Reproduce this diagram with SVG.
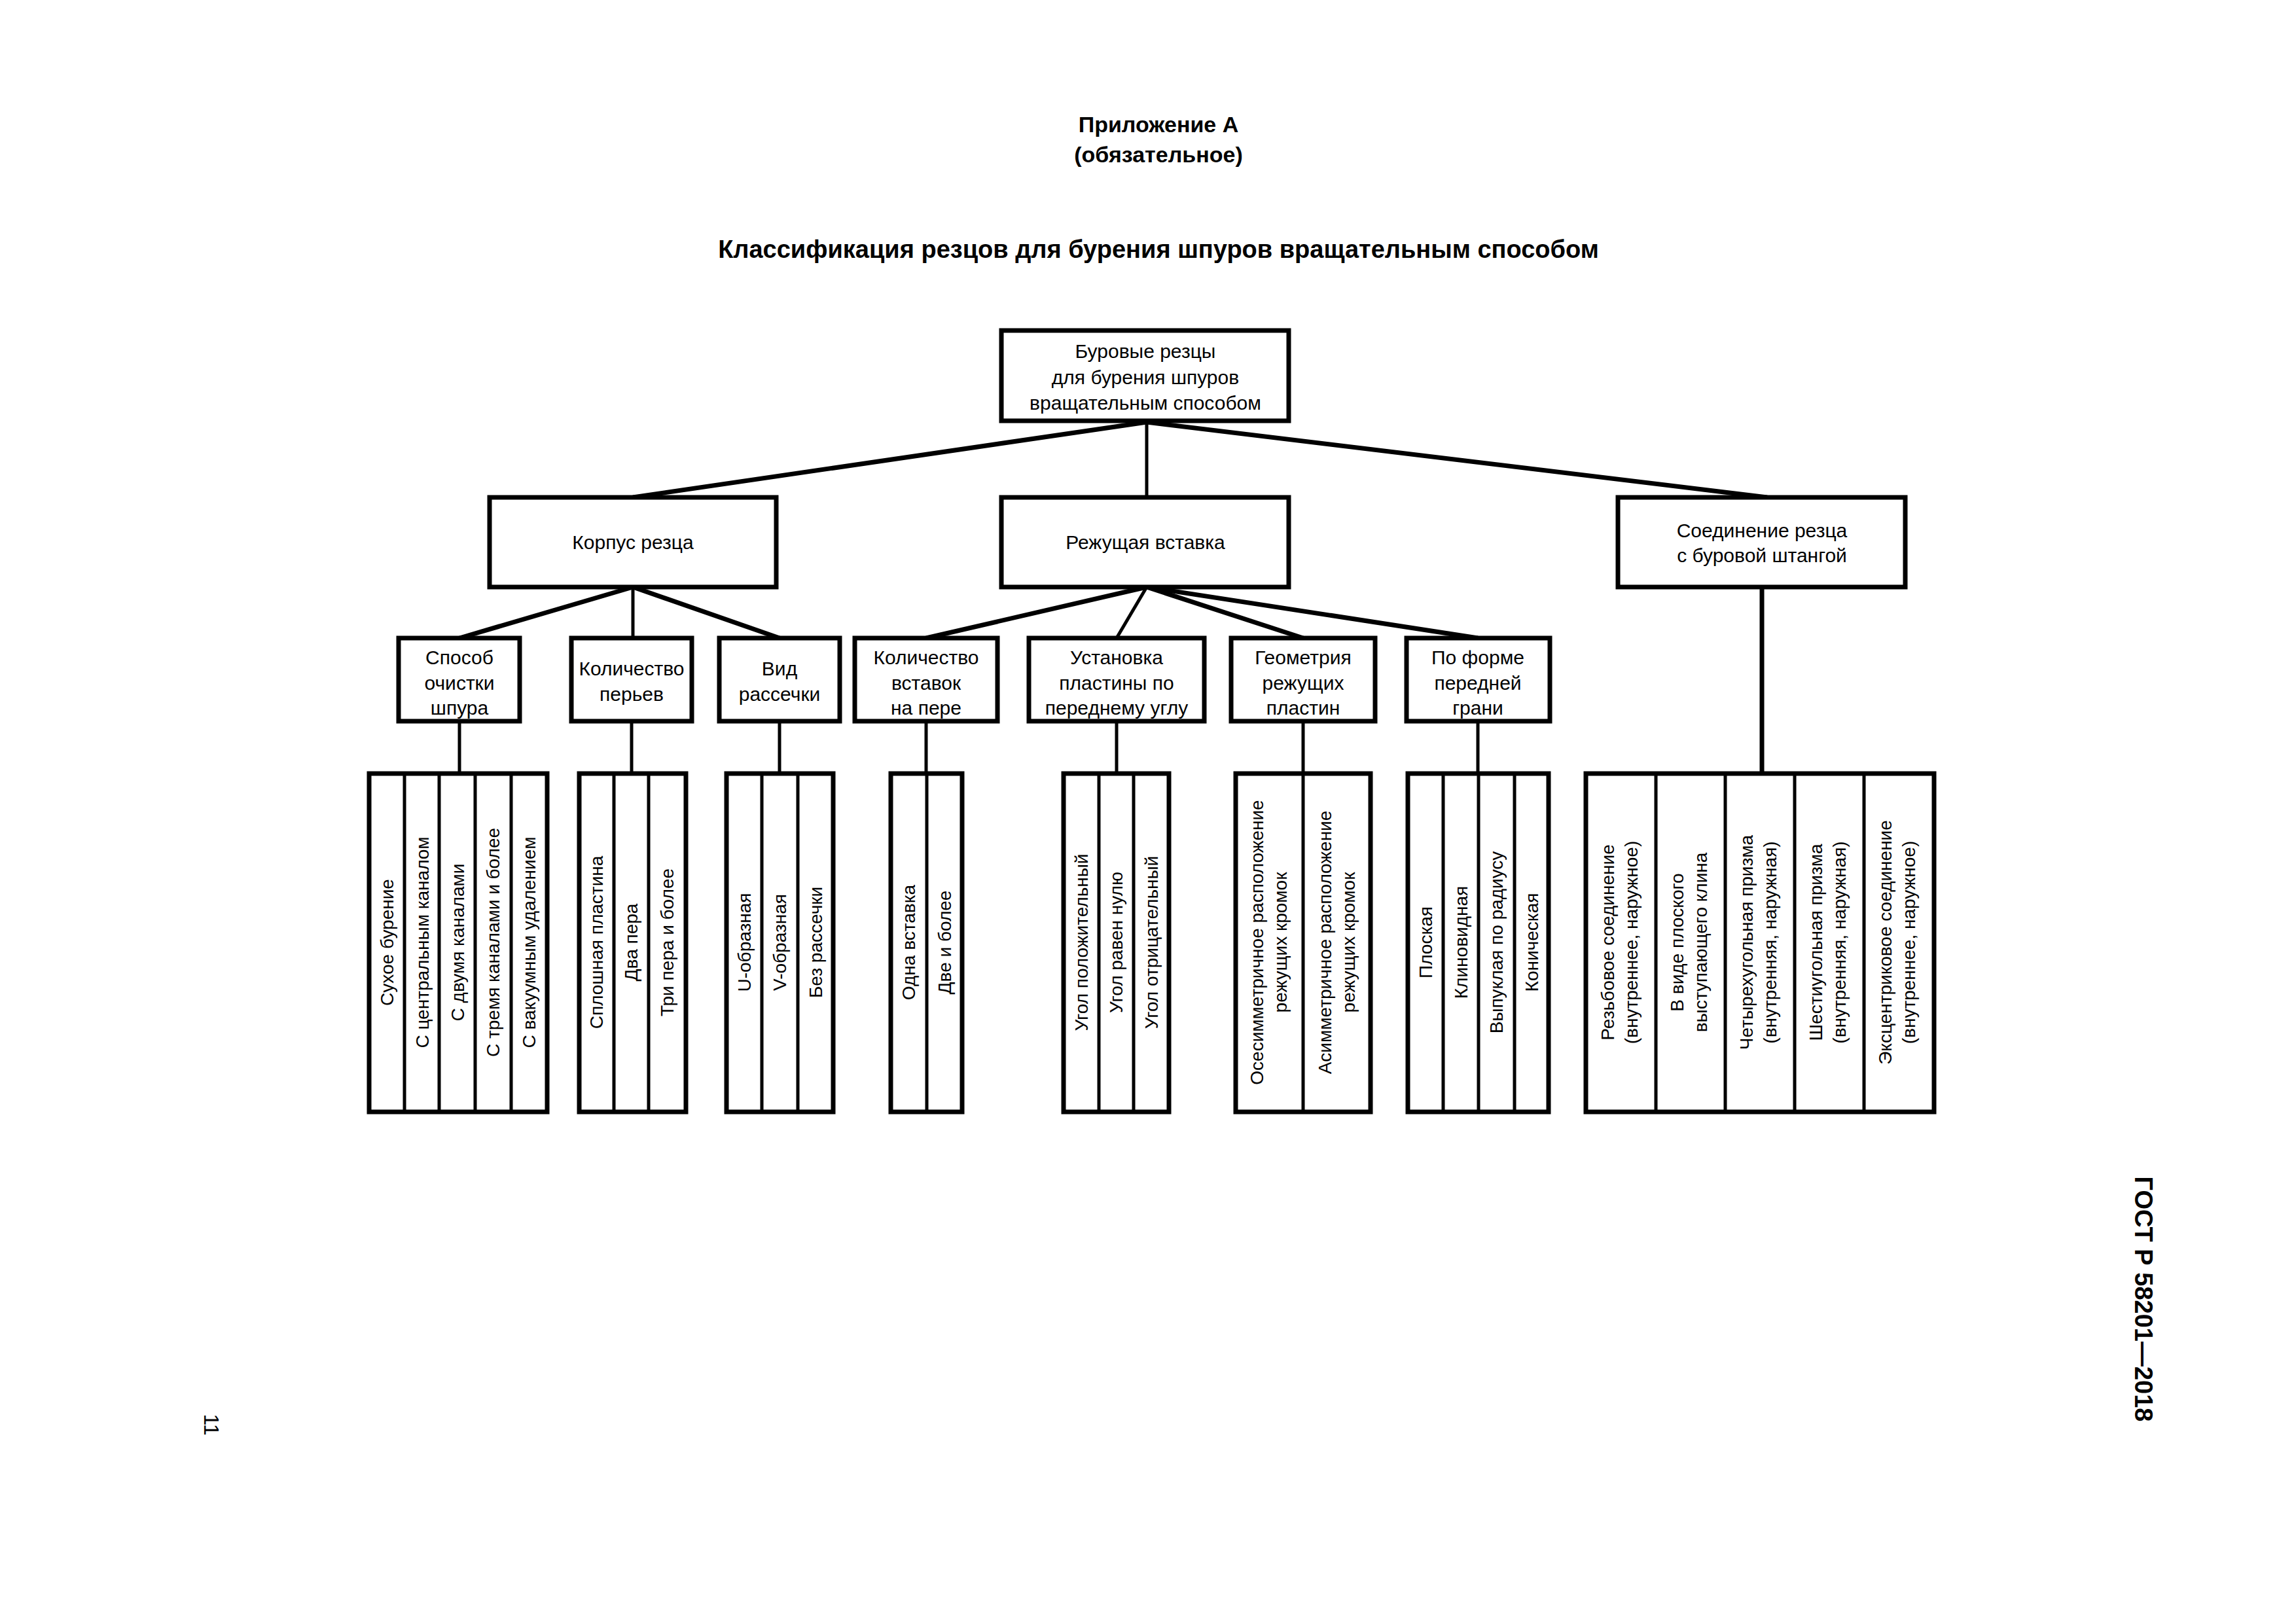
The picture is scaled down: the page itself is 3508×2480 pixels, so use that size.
<svg xmlns="http://www.w3.org/2000/svg" width="3508" height="2480" viewBox="0 0 3508 2480">
<style>
text{font-family:"Liberation Sans",Arial,sans-serif;fill:#000}
.b{fill:#fff;stroke:#000;stroke-width:7}
.d{stroke:#000;stroke-width:5}
.c{stroke:#000;stroke-width:7;fill:none}
.v{stroke:#000;stroke-width:5;fill:none}
.t{font-size:30px;text-anchor:middle}
.l{font-size:28px;text-anchor:middle}
.h{font-size:34px;text-anchor:middle;font-weight:bold}
</style>
<rect width="3508" height="2480" fill="#fff"/>
<text class="h" x="1770" y="202">Приложение А</text>
<text class="h" x="1770" y="248">(обязательное)</text>
<text class="h" x="1770" y="394" style="font-size:38px">Классификация резцов для бурения шпуров вращательным способом</text>
<text x="3262" y="1985" transform="rotate(90 3262 1985)" style="font-size:38px;font-weight:bold;text-anchor:middle">ГОСТ Р 58201—2018</text>
<text x="312" y="2177" transform="rotate(90 312 2177)" style="font-size:32px;text-anchor:middle">11</text>
<g id="connectors">
<line class="c" x1="1752" y1="645" x2="967" y2="760"/>
<line class="v" x1="1752" y1="645" x2="1752" y2="760"/>
<line class="c" x1="1752" y1="645" x2="2700" y2="760"/>
<line class="c" x1="967" y1="897" x2="702" y2="975"/>
<line class="v" x1="967" y1="897" x2="967" y2="975"/>
<line class="c" x1="967" y1="897" x2="1191" y2="975"/>
<line class="c" x1="1752" y1="897" x2="1415" y2="975"/>
<line class="v" x1="1752" y1="897" x2="1706" y2="975"/>
<line class="c" x1="1752" y1="897" x2="1991" y2="975"/>
<line class="c" x1="1752" y1="897" x2="2258" y2="975"/>
<line class="v" x1="702" y1="1102" x2="702" y2="1182"/>
<line class="v" x1="965" y1="1102" x2="965" y2="1182"/>
<line class="v" x1="1191" y1="1102" x2="1191" y2="1182"/>
<line class="v" x1="1415" y1="1102" x2="1415" y2="1182"/>
<line class="v" x1="1706" y1="1102" x2="1706" y2="1182"/>
<line class="v" x1="1991" y1="1102" x2="1991" y2="1182"/>
<line class="v" x1="2258" y1="1102" x2="2258" y2="1182"/>
<line class="c" x1="2692" y1="897" x2="2692" y2="1182"/>
</g>
<g id="root"><rect class="b" x="1530" y="505" width="439" height="138"/>
<text class="t" x="1750" y="547">Буровые резцы</text><text class="t" x="1750" y="587">для бурения шпуров</text><text class="t" x="1750" y="626">вращательным способом</text></g>
<g id="korpus"><rect class="b" x="748" y="760" width="438" height="137"/><text class="t" x="967" y="839">Корпус резца</text></g>
<g id="rezh"><rect class="b" x="1530" y="760" width="439" height="137"/><text class="t" x="1750" y="839">Режущая вставка</text></g>
<g id="soed"><rect class="b" x="2472" y="760" width="439" height="137"/><text class="t" x="2692" y="821">Соединение резца</text><text class="t" x="2692" y="859">с буровой штангой</text></g>
<g id="sposob"><rect class="b" x="609" y="975" width="185" height="127"/><text class="t" x="702" y="1015">Способ</text><text class="t" x="702" y="1054">очистки</text><text class="t" x="702" y="1092">шпура</text></g>
<g id="kolper"><rect class="b" x="873" y="975" width="184" height="127"/><text class="t" x="965" y="1032">Количество</text><text class="t" x="965" y="1071">перьев</text></g>
<g id="vid"><rect class="b" x="1099" y="975" width="184" height="127"/><text class="t" x="1191" y="1032">Вид</text><text class="t" x="1191" y="1071">рассечки</text></g>
<g id="kolvst"><rect class="b" x="1306" y="975" width="218" height="127"/><text class="t" x="1415" y="1015">Количество</text><text class="t" x="1415" y="1054">вставок</text><text class="t" x="1415" y="1092">на пере</text></g>
<g id="ustan"><rect class="b" x="1572" y="975" width="268" height="127"/><text class="t" x="1706" y="1015">Установка</text><text class="t" x="1706" y="1054">пластины по</text><text class="t" x="1706" y="1092">переднему углу</text></g>
<g id="geom"><rect class="b" x="1881" y="975" width="220" height="127"/><text class="t" x="1991" y="1015">Геометрия</text><text class="t" x="1991" y="1054">режущих</text><text class="t" x="1991" y="1092">пластин</text></g>
<g id="forma"><rect class="b" x="2149" y="975" width="219" height="127"/><text class="t" x="2258" y="1015">По форме</text><text class="t" x="2258" y="1054">передней</text><text class="t" x="2258" y="1092">грани</text></g>

<g id="leaf-sposob"><rect class="b" x="564" y="1182" width="272" height="517"/>
<line class="d" x1="618" y1="1182" x2="618" y2="1699"/><line class="d" x1="671" y1="1182" x2="671" y2="1699"/><line class="d" x1="726" y1="1182" x2="726" y2="1699"/><line class="d" x1="781" y1="1182" x2="781" y2="1699"/>
<text class="l" transform="translate(601 1440) rotate(-90)">Сухое бурение</text>
<text class="l" transform="translate(655 1440) rotate(-90)">С центральным каналом</text>
<text class="l" transform="translate(709 1440) rotate(-90)">С двумя каналами</text>
<text class="l" transform="translate(763 1440) rotate(-90)">С тремя каналами и более</text>
<text class="l" transform="translate(818 1440) rotate(-90)">С вакуумным удалением</text></g>
<g id="leaf-kolper"><rect class="b" x="885" y="1182" width="163" height="517"/>
<line class="d" x1="938" y1="1182" x2="938" y2="1699"/><line class="d" x1="991" y1="1182" x2="991" y2="1699"/>
<text class="l" transform="translate(921 1440) rotate(-90)">Сплошная пластина</text>
<text class="l" transform="translate(974 1440) rotate(-90)">Два пера</text>
<text class="l" transform="translate(1029 1440) rotate(-90)">Три пера и более</text></g>
<g id="leaf-vid"><rect class="b" x="1110" y="1182" width="163" height="517"/>
<line class="d" x1="1164" y1="1182" x2="1164" y2="1699"/><line class="d" x1="1219" y1="1182" x2="1219" y2="1699"/>
<text class="l" transform="translate(1147 1440) rotate(-90)">U-образная</text>
<text class="l" transform="translate(1201 1440) rotate(-90)">V-образная</text>
<text class="l" transform="translate(1256 1440) rotate(-90)">Без рассечки</text></g>
<g id="leaf-kolvst"><rect class="b" x="1361" y="1182" width="109" height="517"/>
<line class="d" x1="1416" y1="1182" x2="1416" y2="1699"/>
<text class="l" transform="translate(1398 1440) rotate(-90)">Одна вставка</text>
<text class="l" transform="translate(1453 1440) rotate(-90)">Две и более</text></g>
<g id="leaf-ustan"><rect class="b" x="1625" y="1182" width="161" height="517"/>
<line class="d" x1="1679" y1="1182" x2="1679" y2="1699"/><line class="d" x1="1732" y1="1182" x2="1732" y2="1699"/>
<text class="l" transform="translate(1662 1440) rotate(-90)">Угол положительный</text>
<text class="l" transform="translate(1715 1440) rotate(-90)">Угол равен нулю</text>
<text class="l" transform="translate(1769 1440) rotate(-90)">Угол отрицательный</text></g>
<g id="leaf-geom"><rect class="b" x="1888" y="1182" width="206" height="517"/>
<line class="d" x1="1991" y1="1182" x2="1991" y2="1699"/>
<text class="l" transform="translate(1930 1440) rotate(-90)">Осесимметричное расположение</text>
<text class="l" transform="translate(1966 1440) rotate(-90)">режущих кромок</text>
<text class="l" transform="translate(2034 1440) rotate(-90)">Асимметричное расположение</text>
<text class="l" transform="translate(2070 1440) rotate(-90)">режущих кромок</text></g>
<g id="leaf-forma"><rect class="b" x="2151" y="1182" width="215" height="517"/>
<line class="d" x1="2205" y1="1182" x2="2205" y2="1699"/><line class="d" x1="2259" y1="1182" x2="2259" y2="1699"/><line class="d" x1="2314" y1="1182" x2="2314" y2="1699"/>
<text class="l" transform="translate(2188 1440) rotate(-90)">Плоская</text>
<text class="l" transform="translate(2242 1440) rotate(-90)">Клиновидная</text>
<text class="l" transform="translate(2296 1440) rotate(-90)">Выпуклая по радиусу</text>
<text class="l" transform="translate(2350 1440) rotate(-90)">Коническая</text></g>
<g id="leaf-soed"><rect class="b" x="2423" y="1182" width="532" height="517"/>
<line class="d" x1="2530" y1="1182" x2="2530" y2="1699"/><line class="d" x1="2636" y1="1182" x2="2636" y2="1699"/><line class="d" x1="2742" y1="1182" x2="2742" y2="1699"/><line class="d" x1="2848" y1="1182" x2="2848" y2="1699"/>
<text class="l" transform="translate(2466 1440) rotate(-90)">Резьбовое соединение</text>
<text class="l" transform="translate(2502 1440) rotate(-90)">(внутреннее, наружное)</text>
<text class="l" transform="translate(2572 1440) rotate(-90)">В виде плоского</text>
<text class="l" transform="translate(2608 1440) rotate(-90)">выступающего клина</text>
<text class="l" transform="translate(2678 1440) rotate(-90)">Четырехугольная призма</text>
<text class="l" transform="translate(2714 1440) rotate(-90)">(внутренняя, наружная)</text>
<text class="l" transform="translate(2784 1440) rotate(-90)">Шестиугольная призма</text>
<text class="l" transform="translate(2820 1440) rotate(-90)">(внутренняя, наружная)</text>
<text class="l" transform="translate(2890 1440) rotate(-90)">Эксцентриковое соединение</text>
<text class="l" transform="translate(2926 1440) rotate(-90)">(внутреннее, наружное)</text></g>
</svg>
